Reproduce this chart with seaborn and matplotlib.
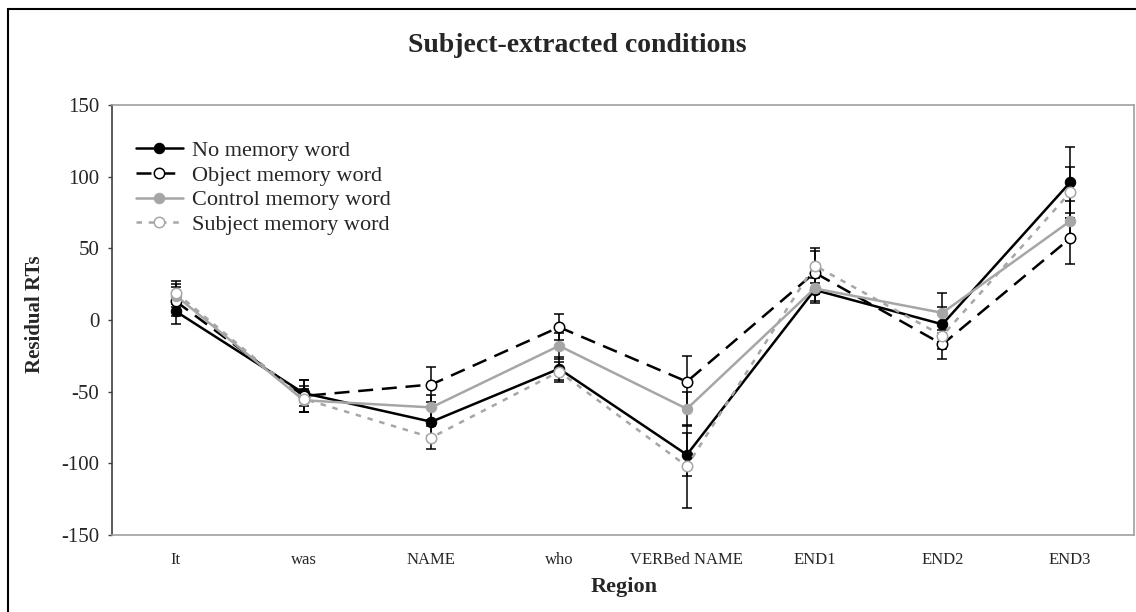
import matplotlib
matplotlib.use("Agg")
import matplotlib.pyplot as plt
import matplotlib.patches as mpatches
import seaborn as sns

# Regions and residual RTs
regions = ["It", "was", "NAME", "who", "VERBed NAME", "END1", "END2", "END3"]
no_memory = [6, -51, -71, -34, -94, 21, -3, 96]
object_memory = [13, -53, -45, -5, -43, 33, -17, 57]
control_memory = [17, -56, -61, -18, -62, 22, 5, 69]
subject_memory = [19, -55, -82, -36, -102, 38, -11, 89]

# standard errors (error bars)
no_memory_err = [9, 9, 10, 8, 15, 8, 12, 25]
object_err = [10, 11, 12, 9, 18, 15, 10, 18]
control_err = [8, 8, 9, 9, 12, 10, 14, 14]
subject_err = [8, 9, 8, 7, 29, 12, 9, 18]

series_names = ["No memory word", "Object memory word", "Control memory word", "Subject memory word"]

sns.set_style("white")
plt.rcParams["font.family"] = ["Liberation Serif", "DejaVu Serif"]
plt.rcParams["axes.unicode_minus"] = False

fig = plt.figure(figsize=(11.36, 6.12), dpi=100)
ax = fig.add_axes([112 / 1136, 1 - 535 / 612, 1022 / 1136, 430 / 612])

gray = "#a6a6a6"

# error bars first, behind the lines
for vals, errs in [(no_memory, no_memory_err), (object_memory, object_err),
                   (control_memory, control_err), (subject_memory, subject_err)]:
    ax.errorbar(regions, vals, yerr=errs, fmt="none", ecolor="black",
                elinewidth=1.1, capsize=3.6, capthick=1.1, zorder=1)

lw = 1.8
sns.lineplot(x=regions, y=no_memory, ax=ax, sort=False, color="black", lw=lw,
             marker="o", markersize=7.5, markerfacecolor="black", markeredgecolor="black",
             label=series_names[0], zorder=3)
sns.lineplot(x=regions, y=object_memory, ax=ax, sort=False, color="black", lw=lw,
             linestyle=(0, (6, 3.5)), marker="o", markersize=7.5, markerfacecolor="white",
             markeredgecolor="black", markeredgewidth=1.1, label=series_names[1], zorder=3)
sns.lineplot(x=regions, y=control_memory, ax=ax, sort=False, color=gray, lw=lw,
             marker="o", markersize=7.5, markerfacecolor=gray, markeredgecolor=gray,
             label=series_names[2], zorder=3)
sns.lineplot(x=regions, y=subject_memory, ax=ax, sort=False, color=gray, lw=lw,
             linestyle=(0, (2.2, 2.7)), marker="o", markersize=7.5, markerfacecolor="white",
             markeredgecolor=gray, markeredgewidth=1.1, label=series_names[3], zorder=3)

ax.set_xlim(-0.5, len(regions) - 0.5)
ax.set_ylim(-150, 150)
ax.set_yticks([-150, -100, -50, 0, 50, 100, 150])
ax.set_xlabel("")
ax.set_ylabel("")

for side in ["top", "right", "bottom"]:
    ax.spines[side].set_color("#a0a0a0")
    ax.spines[side].set_linewidth(1.2)
ax.spines["left"].set_color("#404040")
ax.spines["left"].set_linewidth(1.2)

ax.tick_params(axis="y", direction="out", length=3, width=1, color="#404040",
               labelsize=15, pad=6, left=True)
ax.tick_params(axis="x", length=0, labelsize=12, pad=12)

leg = ax.legend(loc="upper left", bbox_to_anchor=(0.0235, 0.918), frameon=False,
                fontsize=16, handlelength=2.1, handletextpad=0.4, labelspacing=0.19,
                borderaxespad=0, borderpad=0)

fig.text(577 / 1136, 1 - 45 / 612, "Subject-extracted conditions", ha="center", va="center",
         fontsize=20, fontweight="bold")
fig.text(35 / 1136, 1 - 314 / 612, "Residual RTs", ha="center", va="center",
         rotation=90, fontsize=15, fontweight="bold")
fig.text(624 / 1136, 1 - 587 / 612, "Region", ha="center", va="center",
         fontsize=16, fontweight="bold")

# outer chart frame
frame = mpatches.Rectangle((8 / 1136, -0.1), 1.2, 1.1 - 9 / 612, transform=fig.transFigure,
                           fill=False, edgecolor="black", linewidth=1.5)
fig.patches.append(frame)

plt.savefig("out.png", dpi=100)
